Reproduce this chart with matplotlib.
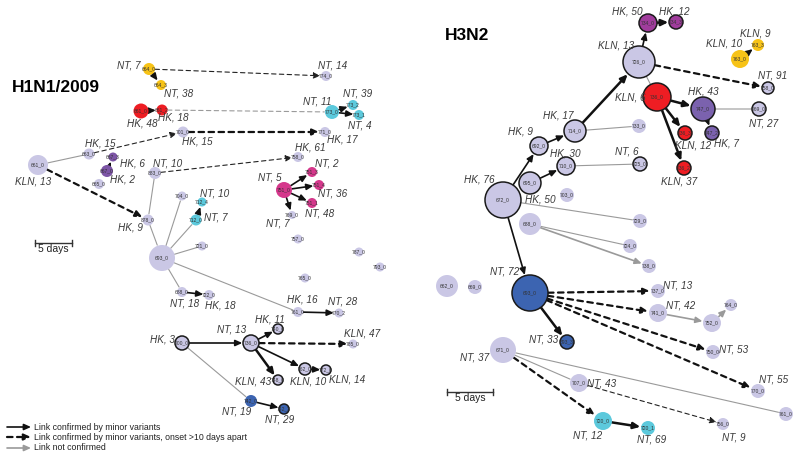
import matplotlib
matplotlib.use("Agg")
import matplotlib.pyplot as plt
from matplotlib.patches import Circle

plt.rcParams['font.family'] = ['Liberation Sans', 'DejaVu Sans']

LAV = '#cac7e5'
YEL = '#f7c317'
RED = '#ee1d23'
PUR = '#7d55a6'
CYA = '#5cc9dc'
MAG = '#d5388c'
BLU = '#3c64b1'
PUR2 = '#a03c9c'
PUR3 = '#7b62ae'

# node: key, x, y, radius, colour, outlined, label, label x, label y (pixel units)
h1_nodes = [
    ('664_0', 149, 69, 6, YEL, 0, 'NT, 7', 129, 65),
    ('664_3', 161, 85, 5, YEL, 0, 'NT, 38', 179, 93),
    ('661_0', 141, 111, 7.5, RED, 0, 'HK, 48', 142, 123),
    ('661_2', 162, 110, 5.5, RED, 0, 'HK, 18', 173, 118),
    ('701_0', 183, 132, 5.5, LAV, 0, 'HK, 15', 197, 142),
    ('774_0', 326, 76, 5, LAV, 0, 'NT, 14', 333, 66),
    ('773_0', 332, 112, 7, CYA, 0, 'NT, 11', 317, 102),
    ('773_2', 353, 105, 5, CYA, 0, 'NT, 39', 358, 94),
    ('773_1', 359, 115, 5, CYA, 0, 'NT, 4', 360, 125),
    ('771_0', 325, 132, 5, LAV, 0, 'HK, 17', 342, 140),
    ('661_0#l', 38, 165, 10, LAV, 0, 'KLN, 13', 33, 181),
    ('663_0', 89, 154, 5.5, LAV, 0, 'HK, 15', 100, 144),
    ('667_3', 113, 157, 4.5, PUR, 0, 'HK, 6', 132, 163),
    ('667_0', 107, 171, 6, PUR, 0, 'HK, 2', 123, 180),
    ('665_0', 99, 184, 5, LAV, 0, '', 0, 0),
    ('883_0', 155, 173, 6, LAV, 0, 'NT, 10', 168, 163),
    ('758_0', 298, 157, 5, LAV, 0, 'HK, 61', 310, 147),
    ('751_0', 284, 190, 8, MAG, 0, 'NT, 5', 270, 178),
    ('751_3', 312, 172, 5, MAG, 0, 'NT, 2', 327, 163),
    ('751_4', 319, 185, 5, MAG, 0, 'NT, 36', 333, 193),
    ('751_1', 312, 203, 5, MAG, 0, 'NT, 48', 320, 213),
    ('769_0', 292, 215, 4, LAV, 0, 'NT, 7', 278, 223),
    ('878_0', 148, 220, 5.5, LAV, 0, 'HK, 9', 130, 227),
    ('704_0', 182, 196, 4.5, LAV, 0, '', 0, 0),
    ('712_4', 202, 202, 4.5, CYA, 0, 'NT, 10', 215, 194),
    ('712_0', 196, 220, 5.5, CYA, 0, 'NT, 7', 216, 218),
    ('721_0', 202, 246, 4.5, LAV, 0, '', 0, 0),
    ('693_0', 162, 258, 13, LAV, 0, '', 0, 0),
    ('688_0', 182, 292, 5, LAV, 0, 'NT, 18', 185, 304),
    ('722_0', 209, 295, 5, LAV, 0, 'HK, 18', 220, 306),
    ('757_0', 298, 239, 4.5, LAV, 0, '', 0, 0),
    ('765_0', 305, 278, 4.5, LAV, 0, '', 0, 0),
    ('787_0', 359, 252, 4.5, LAV, 0, '', 0, 0),
    ('793_0', 380, 267, 4.5, LAV, 0, '', 0, 0),
    ('761_0', 298, 312, 5, LAV, 0, 'HK, 16', 302, 299),
    ('770_2', 339, 313, 4.5, LAV, 0, 'NT, 28', 343, 302),
    ('700_0', 182, 343, 7, LAV, 1, 'HK, 3', 162, 339),
    ('736_0', 251, 343, 8, LAV, 1, 'NT, 13', 232, 330),
    ('740_0', 278, 329, 5, LAV, 1, 'HK, 11', 270, 319),
    ('785_0', 353, 344, 4.5, LAV, 0, 'KLN, 47', 362, 333),
    ('762_0', 305, 369, 6, LAV, 1, 'KLN, 10', 308, 382),
    ('772_0', 326, 370, 5, LAV, 1, 'KLN, 14', 347, 380),
    ('748_0', 278, 380, 5, LAV, 1, 'KLN, 43', 253, 381),
    ('742_0', 251, 401, 6, BLU, 0, 'NT, 19', 237, 412),
    ('742_3', 284, 409, 5, BLU, 1, 'NT, 29', 280, 419),
]

h3_nodes = [
    ('672_0', 503, 200, 18, LAV, 1, 'HK, 76', 479, 179),
    ('692_0', 539, 146, 9, LAV, 1, 'HK, 9', 520, 132),
    ('714_0', 575, 131, 11, LAV, 1, 'HK, 17', 558, 116),
    ('710_0', 566, 166, 9, LAV, 1, 'HK, 30', 565, 153),
    ('695_0', 530, 183, 11, LAV, 1, 'HK, 50', 540, 200),
    ('703_0', 567, 195, 7, LAV, 0, '', 0, 0),
    ('688_0', 530, 224, 11, LAV, 0, '', 0, 0),
    ('734_0', 648, 23, 9, PUR2, 1, 'HK, 50', 627, 12),
    ('734_3', 676, 22, 7, PUR2, 1, 'HK, 12', 674, 11),
    ('726_0', 639, 62, 16, LAV, 1, 'KLN, 13', 616, 46),
    ('763_0', 740, 59, 9, YEL, 0, 'KLN, 10', 724, 44),
    ('763_3', 758, 45, 6, YEL, 0, 'KLN, 9', 755, 33),
    ('758_0', 768, 88, 6, LAV, 1, 'NT, 91', 773, 75),
    ('736_0', 657, 97, 14, RED, 1, 'KLN, 6', 630, 98),
    ('747_0', 703, 109, 12, PUR3, 1, 'HK, 43', 703, 92),
    ('769_0', 759, 109, 7, LAV, 1, 'NT, 27', 764, 123),
    ('747_2', 712, 133, 7, PUR3, 1, 'HK, 7', 727, 143),
    ('736_3', 685, 133, 7, RED, 1, 'KLN, 12', 693, 146),
    ('736_2', 684, 168, 7, RED, 1, 'KLN, 37', 679, 181),
    ('733_0', 639, 126, 7, LAV, 0, '', 0, 0),
    ('725_0', 640, 164, 7, LAV, 1, 'NT, 6', 627, 152),
    ('729_0', 640, 221, 7, LAV, 0, '', 0, 0),
    ('724_0', 630, 246, 7, LAV, 0, '', 0, 0),
    ('738_0', 649, 266, 7, LAV, 0, '', 0, 0),
    ('693_0', 530, 293, 18, BLU, 1, 'NT, 72', 505, 271),
    ('693_3', 567, 342, 7, BLU, 1, 'NT, 33', 544, 340),
    ('662_0', 447, 286, 11, LAV, 0, '', 0, 0),
    ('669_0', 475, 287, 7, LAV, 0, '', 0, 0),
    ('737_0', 658, 291, 7, LAV, 0, 'NT, 13', 678, 286),
    ('741_0', 658, 313, 9, LAV, 0, 'NT, 42', 681, 306),
    ('752_0', 712, 323, 9, LAV, 0, '', 0, 0),
    ('764_0', 731, 305, 6, LAV, 0, '', 0, 0),
    ('750_0', 713, 352, 7, LAV, 0, 'NT, 53', 734, 349),
    ('770_0', 758, 391, 7, LAV, 0, 'NT, 55', 774, 380),
    ('671_0', 503, 350, 13, LAV, 0, 'NT, 37', 475, 357),
    ('707_0', 579, 383, 9, LAV, 0, 'NT, 43', 602, 383),
    ('761_0', 786, 414, 7, LAV, 0, '', 0, 0),
    ('756_0', 723, 424, 6, LAV, 0, 'NT, 9', 734, 438),
    ('720_0', 603, 421, 9, CYA, 0, 'NT, 12', 588, 435),
    ('720_1', 648, 428, 7, CYA, 0, 'NT, 69', 652, 440),
]

# k solid, K thick solid, d dashed arrow, dl thin dashed, g grey line, ga grey arrow, gd grey dashed
h1_edges = [
    ('664_0', '664_3', 'k'), ('664_0', '774_0', 'dl'), ('661_0', '661_2', 'k'),
    ('661_2', '773_0', 'gd'), ('773_0', '773_2', 'k'), ('773_0', '773_1', 'k'),
    ('661_0#l', '663_0', 'g'), ('663_0', '701_0', 'dl'), ('701_0', '771_0', 'd'),
    ('661_0#l', '878_0', 'd'), ('667_0', '667_3', 'k'), ('883_0', '758_0', 'dl'),
    ('883_0', '878_0', 'g'), ('878_0', '693_0', 'g'), ('693_0', '704_0', 'g'),
    ('693_0', '712_0', 'g'), ('693_0', '721_0', 'g'), ('693_0', '688_0', 'g'),
    ('693_0', '761_0', 'g'), ('712_0', '712_4', 'k'), ('751_0', '751_3', 'k'),
    ('751_0', '751_4', 'k'), ('751_0', '751_1', 'k'), ('751_0', '769_0', 'k'),
    ('688_0', '722_0', 'k'), ('761_0', '770_2', 'k'), ('700_0', '736_0', 'k'),
    ('700_0', '742_0', 'g'), ('736_0', '740_0', 'k'), ('736_0', '748_0', 'K'),
    ('736_0', '762_0', 'k'), ('736_0', '785_0', 'd'), ('762_0', '772_0', 'k'),
    ('742_0', '742_3', 'k'),
]

h3_edges = [
    ('672_0', '692_0', 'k'), ('692_0', '714_0', 'k'), ('714_0', '726_0', 'K'),
    ('714_0', '733_0', 'g'), ('695_0', '710_0', 'k'), ('710_0', '725_0', 'g'),
    ('672_0', '729_0', 'g'), ('688_0', '724_0', 'g'), ('688_0', '738_0', 'ga'),
    ('672_0', '693_0', 'k'), ('726_0', '734_0', 'k'), ('734_0', '734_3', 'K'),
    ('726_0', '758_0', 'd'), ('726_0', '736_0', 'g'), ('736_0', '747_0', 'K'),
    ('736_0', '736_3', 'K'), ('736_0', '736_2', 'K'), ('747_0', '769_0', 'g'),
    ('747_0', '747_2', 'k'), ('763_0', '763_3', 'k'), ('693_0', '737_0', 'd'),
    ('693_0', '741_0', 'd'), ('693_0', '750_0', 'd'), ('693_0', '770_0', 'd'),
    ('693_0', '693_3', 'K'), ('741_0', '752_0', 'ga'), ('752_0', '764_0', 'ga'),
    ('671_0', '761_0', 'g'), ('671_0', '707_0', 'g'), ('707_0', '756_0', 'dl'),
    ('671_0', '720_0', 'd'), ('720_0', '720_1', 'K'),
]

styles = {
    'k': dict(color='#111111', lw=1.2, ls='-', arrow=True),
    'K': dict(color='#111111', lw=1.8, ls='-', arrow=True),
    'd': dict(color='#111111', lw=1.6, ls=(0, (2.5, 2)), arrow=True),
    'dl': dict(color='#222222', lw=0.8, ls=(0, (4, 3)), arrow=True),
    'g': dict(color='#9a9a9a', lw=0.8, ls='-', arrow=False),
    'ga': dict(color='#9a9a9a', lw=1.2, ls='-', arrow=True),
    'gd': dict(color='#9a9a9a', lw=0.8, ls=(0, (4, 3)), arrow=False),
}
HEAD = '-|>,head_length=0.4,head_width=0.18'

fig = plt.figure(figsize=(8, 4.59), dpi=100)
ax = fig.add_axes([0, 0, 1, 1])
ax.set_xlim(0, 800)
ax.set_ylim(459, 0)
ax.axis('off')


def draw_edge(p, q, st):
    s = styles[st]
    head = HEAD if s['arrow'] else '-'
    ax.annotate('', xy=(q[1], q[2]), xytext=(p[1], p[2]),
                arrowprops=dict(arrowstyle=head, color=s['color'], lw=s['lw'],
                                linestyle=s['ls'], shrinkA=p[3] * 0.72,
                                shrinkB=q[3] * 0.72 + 0.5),
                zorder=1)


def draw_panel(nodes, edges):
    pos = {n[0]: n for n in nodes}
    for a, b, st in edges:
        draw_edge(pos[a], pos[b], st)
    for key, x, y, r, col, outl, lab, lx, ly in nodes:
        ax.add_patch(Circle((x, y), r, facecolor=col,
                            edgecolor='#1a1a1a' if outl else 'none',
                            lw=1.1 if outl else 0, zorder=2))
        ax.text(x, y, key.split('#')[0], fontsize=3.6, color='#333333',
                ha='center', va='center', zorder=3)
        if lab:
            ax.text(lx, ly, lab, fontsize=7.2, style='italic', color='#3a3a3a',
                    ha='center', va='center', zorder=3)


draw_panel(h1_nodes, h1_edges)
draw_panel(h3_nodes, h3_edges)

ax.text(12, 87, 'H1N1/2009', fontsize=12.5, fontweight='bold', ha='left', va='center')
ax.text(445, 35, 'H3N2', fontsize=12.5, fontweight='bold', ha='left', va='center')

# scale bars
for x0, x1, y in [(35, 72, 243), (447, 493, 392)]:
    ax.plot([x0, x1], [y, y], color='#333333', lw=1)
    ax.plot([x0, x0], [y - 3, y + 3], color='#333333', lw=1)
    ax.plot([x1, x1], [y - 3, y + 3], color='#333333', lw=1)
    ax.text((x0 + x1) / 2, y + 6, '5 days', fontsize=7.5, ha='center', va='center',
            color='#222222')

# legend
leg = [('k', 'Link confirmed by minor variants', 427),
       ('d', 'Link confirmed by minor variants, onset >10 days apart', 437),
       ('ga', 'Link not confirmed', 448)]
for st, txt, y in leg:
    s = styles[st]
    ax.annotate('', xy=(31, y), xytext=(7, y),
                arrowprops=dict(arrowstyle=HEAD, color=s['color'], lw=s['lw'],
                                linestyle=s['ls'], shrinkA=0, shrinkB=0))
    ax.text(34, y, txt, fontsize=6.3, ha='left', va='center', color='#222222')

fig.savefig('out.png', dpi=100)
